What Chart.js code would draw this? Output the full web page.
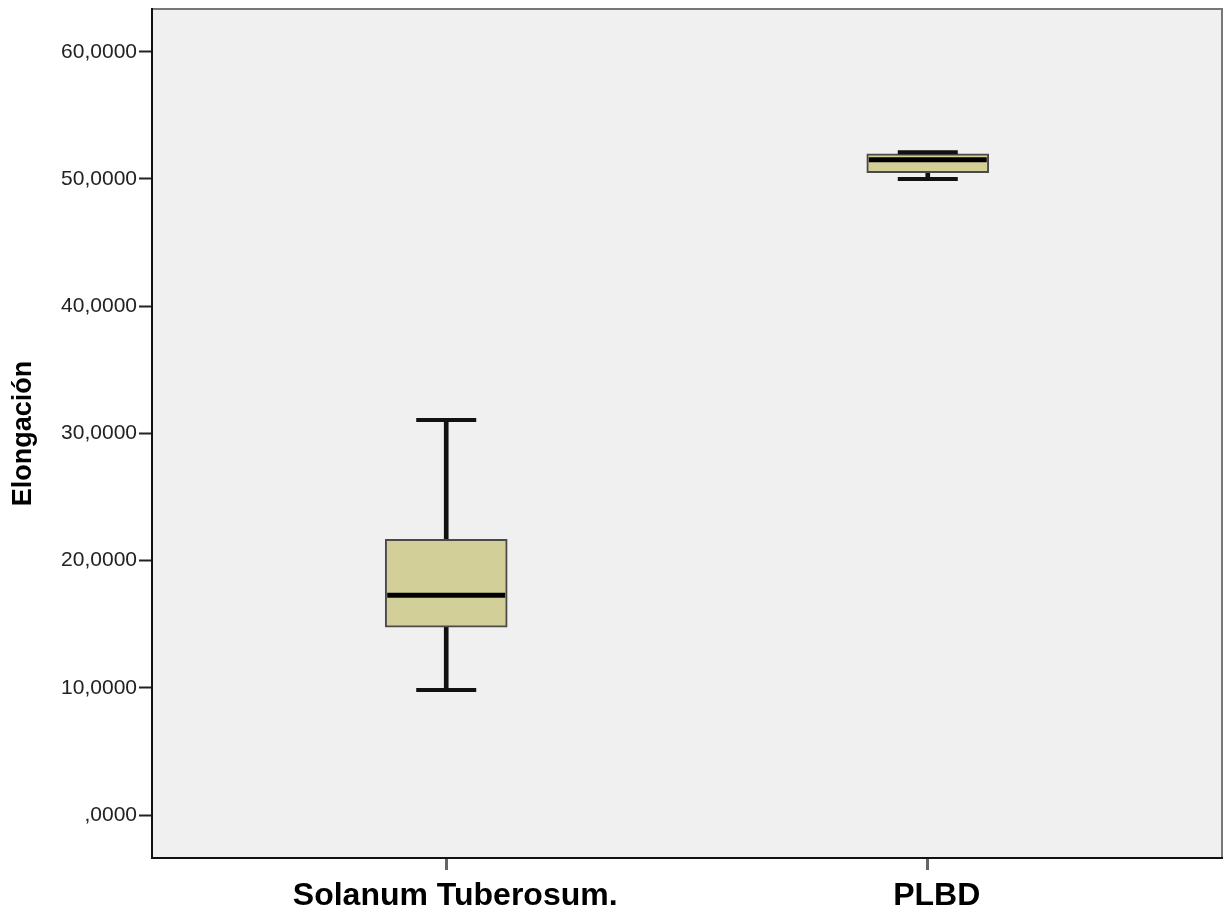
<!DOCTYPE html>
<html>
<head>
<meta charset="utf-8">
<script src="https://cdn.jsdelivr.net/npm/chart.js@4/dist/chart.umd.min.js"></script>
<style>
  html, body { margin: 0; padding: 0; background: #ffffff; }
  #wrap { width: 1230px; height: 910px; }
</style>
</head>
<body>
<div id="wrap"><canvas id="c" width="1230" height="910"></canvas></div>
<script>
// Groups and their five-number summaries (Elongación)
const categories = ['Solanum Tuberosum.', 'PLBD'];
const mins    = [9.83, 50.0];
const q1s     = [14.76, 50.5];
const medians = [17.27, 51.5];
const q3s     = [21.67, 51.97];
const maxs    = [31.05, 52.1];
const yTicks  = [0, 10, 20, 30, 40, 50, 60];

const pos = categories.map((_, i) => i + 1);
const pts = arr => arr.map((v, i) => ({ x: pos[i], y: v }));
const range = (a, b) => a.map((v, i) => ({ x: pos[i], y: [v, b[i]] }));

const fmt = v => v === 0 ? ',0000' : v.toFixed(4).replace('.', ',');

// plot panel background and frame
const panel = {
  id: 'panel',
  beforeDraw(chart) {
    const { ctx, chartArea: a } = chart;
    ctx.save();
    ctx.fillStyle = '#f0f0f0';
    ctx.fillRect(a.left, a.top, a.right - a.left, a.bottom - a.top);
    ctx.strokeStyle = '#777777';
    ctx.lineWidth = 2;
    ctx.beginPath();
    ctx.moveTo(a.left, a.top);
    ctx.lineTo(a.right, a.top);
    ctx.lineTo(a.right, a.bottom);
    ctx.stroke();
    ctx.restore();
  }
};

new Chart(document.getElementById('c'), {
  type: 'bar',
  data: {
    datasets: [
      { type: 'bar', data: range(q1s, q3s), grouped: false, barThickness: 122,
        backgroundColor: '#d3cf98', borderColor: '#4a4a4a', borderWidth: 2,
        borderSkipped: false, order: 3 },
      { type: 'bar', data: range(mins, q1s), grouped: false, barThickness: 4,
        backgroundColor: '#111111', borderWidth: 0, order: 4 },
      { type: 'bar', data: range(q3s, maxs), grouped: false, barThickness: 4,
        backgroundColor: '#111111', borderWidth: 0, order: 4 },
      { type: 'line', data: pts(mins), showLine: false, pointStyle: 'line',
        pointRadius: 30, pointBorderWidth: 4, pointBorderColor: '#111111', order: 2 },
      { type: 'line', data: pts(maxs), showLine: false, pointStyle: 'line',
        pointRadius: 30, pointBorderWidth: 4, pointBorderColor: '#111111', order: 2 },
      { type: 'line', data: pts(medians), showLine: false, pointStyle: 'line',
        pointRadius: 59, pointBorderWidth: 5, pointBorderColor: '#000000', order: 1 }
    ]
  },
  options: {
    responsive: false,
    animation: false,
    layout: { autoPadding: false, padding: { top: 9, right: 8, left: 0, bottom: 0 } },
    plugins: { legend: { display: false }, tooltip: { enabled: false } },
    scales: {
      x: {
        type: 'linear',
        offset: false,
        min: 0.389, max: 2.611,
        afterBuildTicks: s => { s.ticks = pos.map(v => ({ value: v })); },
        afterFit: s => { s.height = 52; s.paddingLeft = 0; s.paddingRight = 0; },
        ticks: {
          callback: v => categories[v - 1] || '',
          color: '#000000',
          font: { family: 'Liberation Sans', size: 32, weight: 'bold' },
          padding: 7, labelOffset: 9, maxRotation: 0, autoSkip: false
        },
        grid: { offset: false, drawOnChartArea: false, tickLength: 12, tickColor: '#666666', tickWidth: 3 },
        border: { color: '#111111', width: 2 }
      },
      y: {
        min: -3.38, max: 63.36,
        afterBuildTicks: s => { s.ticks = yTicks.map(v => ({ value: v })); },
        afterFit: s => { s.width = 152; s.paddingTop = 0; s.paddingBottom = 0; },
        ticks: {
          callback: v => fmt(v),
          color: '#222222',
          font: { family: 'Liberation Sans', size: 21 },
          padding: 2
        },
        grid: { drawOnChartArea: false, tickLength: 13, tickColor: '#222222', tickWidth: 2 },
        border: { color: '#111111', width: 2 },
        title: {
          display: true, text: 'Elongación', color: '#000000',
          font: { family: 'Liberation Sans', size: 27, weight: 'bold' },
          padding: { top: 7, bottom: 0 }
        }
      }
    }
  },
  plugins: [panel]
});
</script>
</body>
</html>
